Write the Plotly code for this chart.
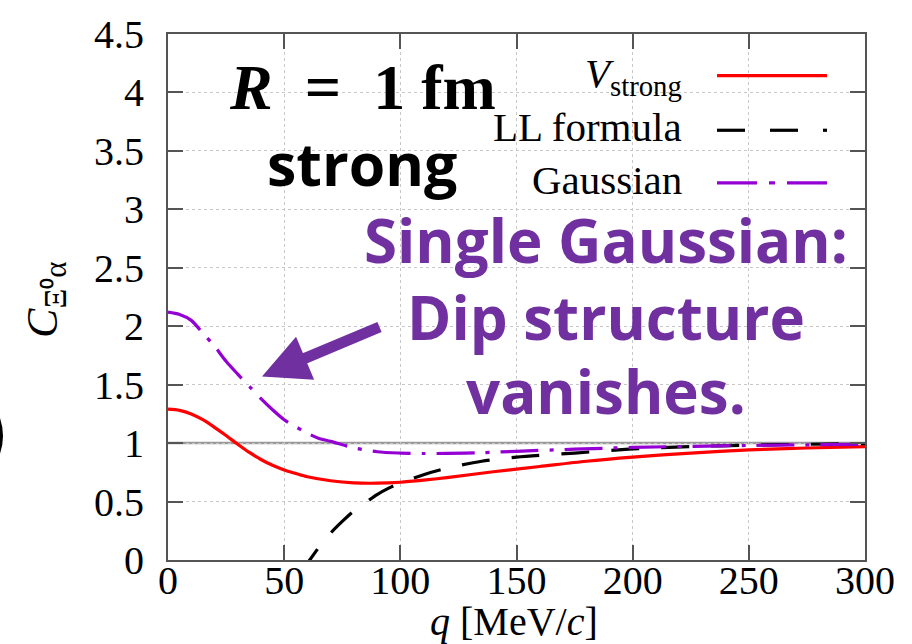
import plotly.graph_objects as go

# Correlation function C(q) for Xi0-alpha, R = 1 fm, strong interaction only
q_strong = [0, 5, 10, 15, 20, 25, 30, 35, 40, 45, 50, 55, 60, 70, 80, 90, 100, 110, 120, 140, 160, 180,
            200, 225, 250, 275, 300]
c_strong = [1.29, 1.28, 1.25, 1.20, 1.135, 1.065, 0.99, 0.92, 0.86, 0.81, 0.77, 0.74, 0.712, 0.678, 0.66,
            0.657, 0.665, 0.683, 0.705, 0.755, 0.80, 0.845, 0.88, 0.915, 0.942, 0.958, 0.97]

q_ll = [57, 61, 65, 70, 75, 80, 85, 90, 95, 100, 110, 120, 135, 150, 175, 200, 225, 250, 275, 300]
c_ll = [-0.10, 0.0, 0.11, 0.23, 0.33, 0.42, 0.49, 0.56, 0.615, 0.66, 0.73, 0.785, 0.845, 0.88,
        0.915, 0.95, 0.97, 0.983, 0.99, 0.995]

q_gauss = [0, 5, 10, 15, 20, 25, 30, 35, 40, 45, 50, 55, 60, 65, 70, 80, 90, 100, 110, 120, 135, 150,
           175, 200, 250, 300]
c_gauss = [2.12, 2.10, 2.05, 1.94, 1.83, 1.70, 1.59, 1.485, 1.38, 1.285, 1.20, 1.14, 1.085, 1.04, 1.015,
           0.96, 0.926, 0.915, 0.911, 0.912, 0.918, 0.93, 0.948, 0.963, 0.98, 0.99]

x_ticks = [0, 50, 100, 150, 200, 250, 300]
y_ticks = [0, 0.5, 1, 1.5, 2, 2.5, 3, 3.5, 4, 4.5]
y_tick_text = ["0", "0.5", "1", "1.5", "2", "2.5", "3", "3.5", "4", "4.5"]

W, H = 912, 644
L, R, T, B = 168, 47, 30, 84


def px(x):
    return (x - L) / (W - L - R)


def py(y):
    return (H - B - y) / (H - T - B)


SERIF = "Liberation Serif"
RED = "#ff0000"
VIOLET = "#9400d3"
PURPLE_TXT = "#7030a0"

fig = go.Figure()
fig.add_trace(go.Scatter(x=q_strong, y=c_strong, mode="lines",
                         line=dict(color=RED, width=3.2, shape="spline", smoothing=0.8)))
fig.add_trace(go.Scatter(x=q_ll, y=c_ll, mode="lines",
                         line=dict(color="black", width=3.2, dash="28px,22px", shape="spline", smoothing=0.8)))
fig.add_trace(go.Scatter(x=q_gauss, y=c_gauss, mode="lines",
                         line=dict(color=VIOLET, width=3.2, dash="38px,11px,4px,11px", shape="spline",
                                   smoothing=0.8)))

axis_common = dict(
    showline=True, linecolor="#555555", linewidth=2, mirror="ticks",
    ticks="inside", ticklen=15, tickwidth=2, tickcolor="#555555",
    showgrid=True, gridcolor="#c8c8c8", gridwidth=1, griddash="dot",
    zeroline=False, tickfont=dict(family=SERIF, size=40, color="black"),
)

fig.update_layout(
    width=W, height=H,
    margin=dict(l=L, r=R, t=T, b=B),
    paper_bgcolor="white", plot_bgcolor="white",
    font=dict(family=SERIF, size=40, color="black"),
    showlegend=False,
    xaxis=dict(range=[0, 300], tickvals=x_ticks, ticklabelstandoff=-16, **axis_common),
    yaxis=dict(range=[0, 4.5], tickvals=y_ticks, ticktext=y_tick_text, ticklabelstandoff=14, **axis_common),
)

shapes = []
# reference line C = 1
shapes.append(dict(type="line", xref="x", yref="y", x0=0, x1=300, y0=1, y1=1,
                   line=dict(color="#999999", width=2.5), layer="below"))

# legend samples
leg_x0, leg_x1 = 717, 827
shapes.append(dict(type="line", xref="paper", yref="paper", x0=px(leg_x0), x1=px(leg_x1),
                   y0=py(72), y1=py(72), line=dict(color=RED, width=3.2)))
for a, b in [(717, 745), (770, 798), (823, 827)]:
    shapes.append(dict(type="line", xref="paper", yref="paper", x0=px(a), x1=px(b),
                       y0=py(127), y1=py(127), line=dict(color="black", width=3.2)))
for a, b in [(717, 757), (769, 775), (787, 827)]:
    shapes.append(dict(type="line", xref="paper", yref="paper", x0=px(a), x1=px(b),
                       y0=py(180), y1=py(180), line=dict(color=VIOLET, width=3.2)))

# partial bracket at the left edge
shapes.append(dict(type="path", xref="paper", yref="paper",
                   path=f"M {px(-6)},{py(408)} Q {px(8)},{py(435)} {px(-6)},{py(462)}",
                   line=dict(color="black", width=4)))
fig.update_layout(shapes=shapes)

ann = []
# legend labels
for txt, y in [("<i>V</i><sub>strong</sub>", 72), ("LL formula", 124), ("Gaussian", 177)]:
    ann.append(dict(text=txt, xref="paper", yref="paper", x=px(684), y=py(y), xanchor="right",
                    yanchor="middle", showarrow=False, font=dict(family=SERIF, size=41, color="black")))

# axis titles
ann.append(dict(text="<i>q</i> [MeV/<i>c</i>]", xref="paper", yref="paper", x=px(514), y=py(622),
                xanchor="center", yanchor="middle", showarrow=False,
                font=dict(family=SERIF, size=40, color="black")))
ann.append(dict(text="<i>C</i><sub>Ξ⁰α</sub>", xref="paper", yref="paper", x=px(46), y=py(298),
                xanchor="center", yanchor="middle", textangle=-90, showarrow=False,
                font=dict(family=SERIF, size=44, color="black")))

# labels inside the plot
ann.append(dict(text="<b><i>R</i>\u2002=\u20021 fm</b>", xref="paper", yref="paper", x=px(362), y=py(84),
                xanchor="center", yanchor="middle", showarrow=False,
                font=dict(family=SERIF, size=64, color="black")))
ann.append(dict(text="<b>strong</b>", xref="paper", yref="paper", x=px(362), y=py(160),
                xanchor="center", yanchor="middle", showarrow=False,
                font=dict(family="Open Sans", size=59, color="black")))
for txt, y in [("Single Gaussian:", 238), ("Dip structure", 315), ("vanishes.", 390)]:
    ann.append(dict(text=f"<b>{txt}</b>", xref="paper", yref="paper", x=px(606), y=py(y),
                    xanchor="center", yanchor="middle", showarrow=False,
                    font=dict(family="Open Sans", size=60, color=PURPLE_TXT)))

# arrow pointing at the Gaussian curve
ann.append(dict(text="", xref="paper", yref="paper", x=px(262), y=py(375),
                axref="pixel", ayref="pixel", ax=119, ay=-50,
                showarrow=True, arrowhead=2, arrowwidth=11, arrowsize=0.85, arrowcolor=PURPLE_TXT))
fig.update_layout(annotations=ann)

fig.write_html("out.html")
